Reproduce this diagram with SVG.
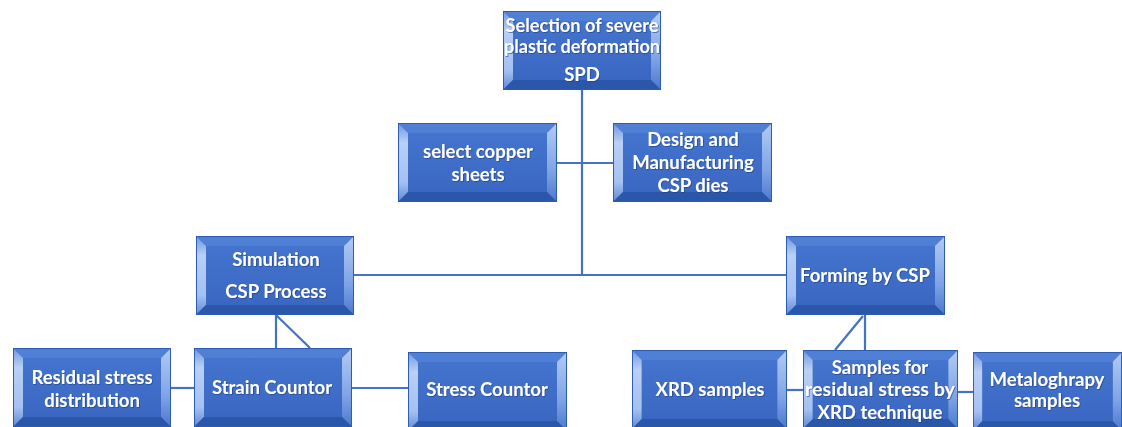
<svg xmlns="http://www.w3.org/2000/svg" xmlns:xlink="http://www.w3.org/1999/xlink" width="1122" height="427" viewBox="0 0 1122 427">
  <defs>
    <style>
      .wire { stroke: #4472c4; stroke-width: 2.2; fill: none; }
      .lbl { font-family: Lato, "Open Sans", "Liberation Sans", sans-serif; font-weight: 700; font-size: 18.5px; fill: #ffffff; text-anchor: middle; filter: url(#txtShadow); }
    </style>
    <linearGradient id="faceGrad" x1="0" y1="0" x2="0" y2="1">
      <stop offset="0" stop-color="#4474cd"/>
      <stop offset="1" stop-color="#3a67c2"/>
    </linearGradient>
    <linearGradient id="leftGrad" x1="0" y1="0" x2="0" y2="1">
      <stop offset="0" stop-color="#6f97e0"/>
      <stop offset="0.25" stop-color="#b9d0f6"/>
      <stop offset="0.75" stop-color="#a4c1f1"/>
      <stop offset="1" stop-color="#5f88d6"/>
    </linearGradient>
    <linearGradient id="rightGrad" x1="0" y1="0" x2="0" y2="1">
      <stop offset="0" stop-color="#b3cbf4"/>
      <stop offset="0.6" stop-color="#7fa4e6"/>
      <stop offset="1" stop-color="#4c78cc"/>
    </linearGradient>
    <filter id="txtShadow" x="-10%" y="-30%" width="120%" height="160%">
      <feDropShadow dx="0.8" dy="0.8" stdDeviation="0.6" flood-color="#1d3a78" flood-opacity="0.7"/>
    </filter>
    <!-- bevelled block used for every node -->
    <symbol id="bevel" viewBox="0 0 158 79" preserveAspectRatio="none">
      <rect x="0" y="0" width="158" height="79" fill="#3462bc"/>
      <polygon points="0,0 158,0 148,10 10,10" fill="#4f80d6"/>
      <polygon points="0,0 10,10 10,69 0,79" fill="url(#leftGrad)"/>
      <polygon points="158,0 158,79 148,69 148,10" fill="url(#rightGrad)"/>
      <polygon points="0,79 10,69 148,69 158,79" fill="#2b57ab"/>
      <rect x="10" y="10" width="138" height="59" fill="url(#faceGrad)"/>
      <rect x="0.5" y="0.5" width="157" height="78" fill="none" stroke="#2d5cb4" stroke-width="1"/>
    </symbol>
  </defs>

  <rect width="1122" height="427" fill="#ffffff"/>

  <g id="connectors">
    <line class="wire" x1="582" y1="90" x2="582" y2="276"/>
    <line class="wire" x1="557" y1="163" x2="613" y2="163"/>
    <line class="wire" x1="354" y1="275" x2="786" y2="275"/>
    <line class="wire" x1="276" y1="315" x2="276" y2="348"/>
    <line class="wire" x1="276" y1="315" x2="310" y2="348"/>
    <line class="wire" x1="865" y1="315" x2="865" y2="350"/>
    <line class="wire" x1="863" y1="316" x2="835" y2="350"/>
    <line class="wire" x1="171" y1="388" x2="194" y2="388"/>
    <line class="wire" x1="352" y1="388" x2="408" y2="388"/>
    <line class="wire" x1="787" y1="390" x2="803" y2="390"/>
    <line class="wire" x1="958" y1="392" x2="973" y2="392"/>
  </g>

  <g id="spd">
    <use xlink:href="#bevel" x="503" y="11" width="158" height="79"/>
    <text class="lbl" x="582" y="32" textLength="153" lengthAdjust="spacingAndGlyphs">Selection of severe</text>
    <text class="lbl" x="582" y="53" textLength="156" lengthAdjust="spacingAndGlyphs">plastic deformation</text>
    <text class="lbl" x="582" y="81">SPD</text>
  </g>

  <g id="copper">
    <use xlink:href="#bevel" x="398" y="123" width="159" height="79"/>
    <text class="lbl" x="478" y="158">select copper</text>
    <text class="lbl" x="478" y="181">sheets</text>
  </g>

  <g id="dies">
    <use xlink:href="#bevel" x="613" y="123" width="159" height="79"/>
    <text class="lbl" x="693" y="146">Design and</text>
    <text class="lbl" x="693" y="169">Manufacturing</text>
    <text class="lbl" x="693" y="192">CSP dies</text>
  </g>

  <g id="simulation">
    <use xlink:href="#bevel" x="196" y="236" width="158" height="79"/>
    <text class="lbl" x="276" y="266">Simulation</text>
    <text class="lbl" x="276" y="298">CSP Process</text>
  </g>

  <g id="forming">
    <use xlink:href="#bevel" x="786" y="236" width="159" height="79"/>
    <text class="lbl" x="865" y="282">Forming by CSP</text>
  </g>

  <g id="residual">
    <use xlink:href="#bevel" x="13" y="348" width="158" height="79"/>
    <text class="lbl" x="92" y="384">Residual stress</text>
    <text class="lbl" x="92" y="407">distribution</text>
  </g>

  <g id="strain">
    <use xlink:href="#bevel" x="194" y="348" width="158" height="79"/>
    <text class="lbl" x="272" y="394">Strain Countor</text>
  </g>

  <g id="stress">
    <use xlink:href="#bevel" x="408" y="352" width="159" height="79"/>
    <text class="lbl" x="487" y="396">Stress Countor</text>
  </g>

  <g id="xrd">
    <use xlink:href="#bevel" x="632" y="350" width="155" height="79"/>
    <text class="lbl" x="710" y="396">XRD samples</text>
  </g>

  <g id="samples">
    <use xlink:href="#bevel" x="803" y="350" width="155" height="79"/>
    <text class="lbl" x="880" y="374">Samples for</text>
    <text class="lbl" x="880" y="396" textLength="150" lengthAdjust="spacingAndGlyphs">residual stress by</text>
    <text class="lbl" x="880" y="419">XRD technique</text>
  </g>

  <g id="metallography">
    <use xlink:href="#bevel" x="973" y="352" width="149" height="79"/>
    <text class="lbl" x="1047" y="386">Metaloghrapy</text>
    <text class="lbl" x="1047" y="407">samples</text>
  </g>
</svg>
